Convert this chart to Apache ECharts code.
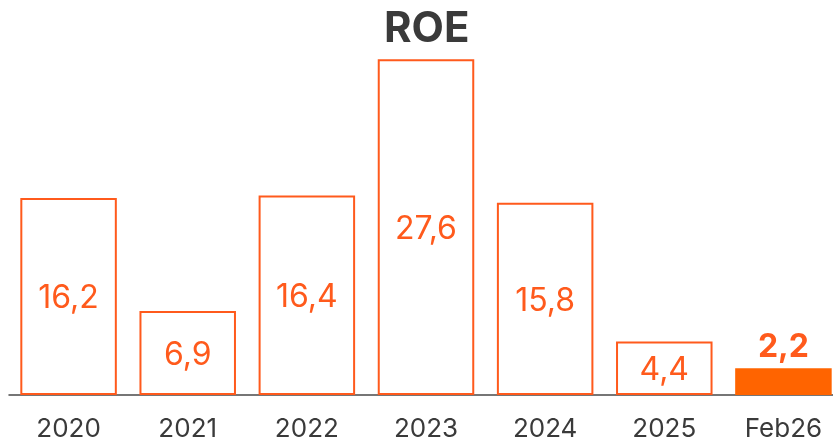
<!DOCTYPE html>
<html>
<head>
<meta charset="utf-8">
<script src="https://cdn.jsdelivr.net/npm/echarts@6/dist/echarts.min.js"></script>
<style>
  html, body { margin: 0; padding: 0; background: #fff; overflow: hidden; }
  /* chart is a bit wider than the window so the last bar runs off the edge */
  #chart { width: 843px; height: 447px; }
</style>
</head>
<body>
<div id="chart"></div>
<script>
const categories = ['2020', '2021', '2022', '2023', '2024', '2025', 'Feb26'];
const roeValues = [16.2, 6.9, 16.4, 27.6, 15.8, 4.4, 2.2];

const orange = '#ff5a1c';
const orangeFill = '#ff6400';
const fmt = (v) => String(v).replace('.', ',');

const chart = echarts.init(document.getElementById('chart'));

chart.setOption({
    backgroundColor: '#fff',
    animation: false,
    title: {
        text: 'ROE',
        left: 379,
        top: 3,
        textStyle: { color: '#3a3a3a', fontSize: 42, fontWeight: 'bold', fontFamily: 'Inter' },
    },
    grid: { left: 9, right: 0, top: 30, bottom: 52 },
    xAxis: {
        type: 'category',
        data: categories,
        axisLine: { lineStyle: { color: '#4a4a4a', width: 1.5 } },
        axisTick: { show: false },
        axisLabel: { color: '#3a3a3a', fontSize: 26, fontFamily: 'Inter', margin: 21 },
    },
    yAxis: {
        type: 'value',
        min: 0,
        max: 30,
        show: false,
        splitLine: { show: false },
    },
    series: [{
        type: 'bar',
        barCategoryGap: '19%',
        data: roeValues.map((v, i) => {
            const last = i === roeValues.length - 1;
            return {
                value: v,
                itemStyle: last
                    ? { color: orangeFill, borderWidth: 0 }
                    : { color: '#fff', borderColor: orange, borderWidth: 2 },
                label: last
                    ? { position: 'top', fontWeight: 'bold', distance: 5 }
                    : { position: 'inside', offset: [0, 2] },
            };
        }),
        label: {
            show: true,
            color: orange,
            fontSize: 32,
            fontFamily: 'Inter',
            formatter: (p) => fmt(p.value),
        },
    }],
});
</script>
</body>
</html>
